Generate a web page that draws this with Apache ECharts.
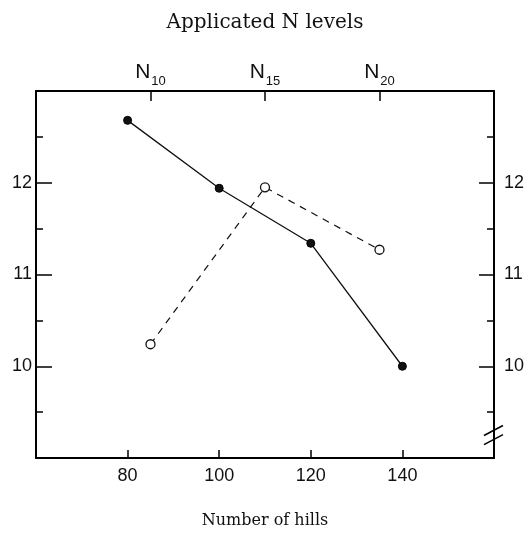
<!DOCTYPE html>
<html><head><meta charset="utf-8">
<script src="https://cdn.jsdelivr.net/npm/echarts@6/dist/echarts.min.js"></script>
<style>html,body{margin:0;padding:0;background:#fff}#c{width:527px;height:534px}</style>
</head><body><div id="c"></div>
<script>
// Bottom axis: number of hills (solid line, filled markers)
const hills = [80, 100, 120, 140];
const hillsValues = [12.68, 11.94, 11.34, 10.0];
// Top axis: applicated N levels (dashed line, open markers)
const nLevels = [10, 15, 20];
const nValues = [10.24, 11.95, 11.27];
const hillTicks = [80, 100, 120, 140];
const nTicks = [10, 15, 20];
const yTicks = [10, 11, 12];

const chart = echarts.init(document.getElementById('c'), null, {renderer: 'canvas'});
const serif = 'DejaVu Serif';
const sans = 'Liberation Sans';
const axisLine = {show: true, lineStyle: {color: '#000', width: 2}};

const option = {
  backgroundColor: '#fff',
  animation: false,
  grid: {left: 36, right: 30, top: 91, bottom: 76},
  xAxis: [
    {
      type: 'value', position: 'bottom', min: 60, max: 160, interval: 20,
      axisLine: axisLine,
      axisTick: {inside: true, length: 8, lineStyle: {color: '#000', width: 1.5}},
      splitLine: {show: false},
      axisLabel: {color: '#111', fontFamily: sans, fontSize: 18, margin: 9,
        formatter: v => hillTicks.includes(v) ? String(v) : ''},
      name: 'Number of hills', nameLocation: 'middle', nameGap: 55,
      nameTextStyle: {fontFamily: serif, fontSize: 16, color: '#111'}
    },
    {
      type: 'value', position: 'top', min: 5, max: 25, interval: 5,
      axisLine: axisLine,
      axisTick: {inside: true, length: 10, lineStyle: {color: '#000', width: 1.5}},
      splitLine: {show: false},
      axisLabel: {color: '#111', margin: 8,
        formatter: v => nTicks.includes(v) ? '{n|N}{s|' + v + '}' : '',
        rich: {n: {fontFamily: sans, fontSize: 21, color: '#111'},
               s: {fontFamily: sans, fontSize: 13, color: '#111', verticalAlign: 'bottom', padding: [0, 0, -5, 1]}}},
      name: 'Applicated N levels', nameLocation: 'middle', nameGap: 58,
      nameTextStyle: {fontFamily: serif, fontSize: 20, color: '#111'}
    }
  ],
  yAxis: [
    {
      type: 'value', position: 'left', min: 9, max: 13, interval: 1,
      axisLine: axisLine,
      axisTick: {inside: true, length: 16, lineStyle: {color: '#000', width: 1.5}},
      minorTick: {show: true, splitNumber: 2, length: 7, lineStyle: {color: '#000', width: 1.5}},
      splitLine: {show: false},
      axisLabel: {color: '#111', fontFamily: sans, fontSize: 18, margin: 4,
        formatter: v => yTicks.includes(v) ? String(v) : ''}
    },
    {
      type: 'value', position: 'right', min: 9, max: 13, interval: 1,
      axisLine: axisLine,
      axisTick: {inside: true, length: 15, lineStyle: {color: '#000', width: 1.5}},
      minorTick: {show: true, splitNumber: 2, length: 7, lineStyle: {color: '#000', width: 1.5}},
      splitLine: {show: false},
      axisLabel: {color: '#111', fontFamily: sans, fontSize: 18, margin: 10,
        formatter: v => yTicks.includes(v) ? String(v) : ''}
    }
  ],
  series: [
    {
      type: 'line', xAxisIndex: 0, yAxisIndex: 0,
      data: hills.map((x, i) => [x, hillsValues[i]]),
      symbol: 'circle', symbolSize: 8,
      itemStyle: {color: '#111', borderColor: '#000', borderWidth: 1},
      lineStyle: {color: '#111', width: 1.3, type: 'solid'}
    },
    {
      type: 'line', xAxisIndex: 1, yAxisIndex: 0,
      data: nLevels.map((x, i) => [x, nValues[i]]),
      symbol: 'circle', symbolSize: 9,
      itemStyle: {color: '#fff', borderColor: '#111', borderWidth: 1.3},
      lineStyle: {color: '#111', width: 1.2, type: [7, 6]}
    }
  ]
};
chart.setOption(option);

// axis break mark on right axis
const bx = chart.convertToPixel({xAxisIndex: 0}, 160);
const b1 = chart.convertToPixel({yAxisIndex: 1}, 9.3);
const b2 = chart.convertToPixel({yAxisIndex: 1}, 9.2);
chart.setOption({
  graphic: [
    {type: 'line', shape: {x1: bx - 10, y1: b1 + 5, x2: bx + 9, y2: b1 - 5}, style: {stroke: '#000', lineWidth: 1.5}},
    {type: 'line', shape: {x1: bx - 10, y1: b2 + 5, x2: bx + 9, y2: b2 - 5}, style: {stroke: '#000', lineWidth: 1.5}}
  ]
});
</script>
</body></html>
